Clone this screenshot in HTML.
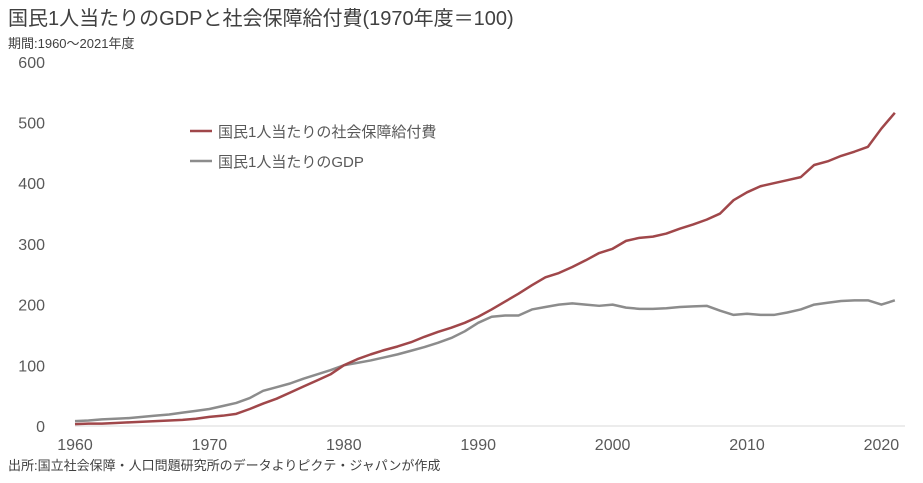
<!DOCTYPE html>
<html><head><meta charset="utf-8"><style>
body{margin:0;background:#fff;width:923px;height:478px;overflow:hidden;font-family:"Liberation Sans","Noto Sans CJK JP",sans-serif;color:#404040}
</style></head><body>
<svg id="chart" width="923" height="478" xmlns="http://www.w3.org/2000/svg" font-family="Liberation Sans, Noto Sans CJK JP, sans-serif">
<text x="8" y="25" font-size="20" fill="#404040">国民1人当たりのGDPと社会保障給付費(1970年度＝100)</text>
<text x="8" y="48" font-size="13" fill="#404040">期間:1960～2021年度</text>
<text x="8" y="470" font-size="13" fill="#404040">出所:国立社会保障・人口問題研究所のデータよりピクテ・ジャパンが作成</text>
<g id="yaxis"></g><g id="xaxis"></g><g id="series"></g>
<g>
<line x1="190" y1="131" x2="212" y2="131" stroke="#a0474a" stroke-width="2.5"/>
<text x="218" y="137" font-size="15" fill="#595959">国民1人当たりの社会保障給付費</text>
<line x1="190" y1="161" x2="212" y2="161" stroke="#8c8c8c" stroke-width="2.5"/>
<text x="218" y="167" font-size="15" fill="#595959">国民1人当たりのGDP</text>
</g>
</svg>
<script>
const years=[];for(let y=1960;y<=2021;y++)years.push(y);
const benefits=[3,4,4,5,6,7,8,9,10,12,15,17,20,28,37,45,55,65,75,85,100,110,118,125,131,138,147,155,162,170,180,192,205,218,232,245,252,262,273,285,292,305,310,312,317,325,332,340,350,372,385,395,400,405,410,430,436,445,452,460,490,516];
const gdp=[8,9,11,12,13,15,17,19,22,25,28,33,38,46,58,64,70,78,85,92,100,104,108,113,118,124,130,137,145,156,170,180,182,182,192,196,200,202,200,198,200,195,193,193,194,196,197,198,190,183,185,183,183,187,192,200,203,206,207,207,200,207];
const yTicks=[0,100,200,300,400,500,600];
const xTicks=[1960,1970,1980,1990,2000,2010,2020];
const X=y=>75+(y-1960)*13.44, Y=v=>426-v*0.607;
const ns='http://www.w3.org/2000/svg';
function mk(t,a,p){const e=document.createElementNS(ns,t);for(const k in a)e.setAttribute(k,a[k]);p.appendChild(e);return e;}
const ya=document.getElementById('yaxis'),xa=document.getElementById('xaxis'),sg=document.getElementById('series');
yTicks.forEach(v=>{const t=mk('text',{x:45,y:Y(v)+6,'font-size':16,'text-anchor':'end',fill:'#595959'},ya);t.textContent=v;

});
const ax=mk('line',{x1:75,x2:905,y1:426,y2:426,stroke:'#d9d9d9','stroke-width':1},xa);


xTicks.forEach(v=>{const t=mk('text',{x:X(v),y:450,'font-size':16,'text-anchor':'middle',fill:'#595959'},xa);t.textContent=v;

});
function line(d,c,n){const p=mk('polyline',{points:d.map((v,i)=>X(years[i])+','+Y(v)).join(' '),fill:'none',stroke:c,'stroke-width':2.5,'stroke-linejoin':'round'},sg);

}
line(gdp,'#8c8c8c','gdp-line');
line(benefits,'#a0474a','benefits-line');
</script>
</body></html>
